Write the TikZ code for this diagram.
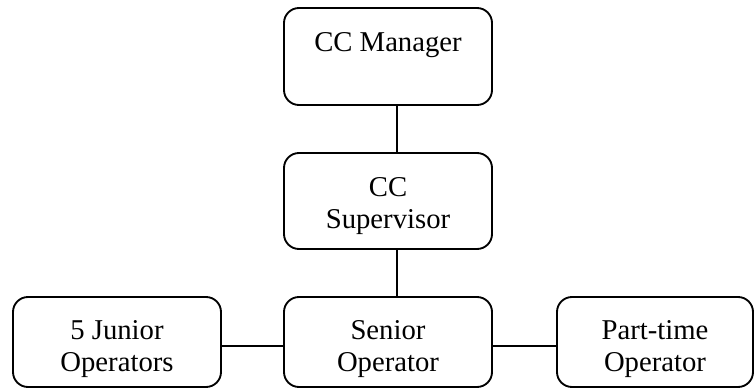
\documentclass[tikz,border=0pt]{standalone}
\usepackage{fontspec}
\setmainfont{Liberation Serif}
\usetikzlibrary{positioning}
\tikzstyle{every node}=[font=\fontsize{24.5}{28}\selectfont]
\tikzstyle{post}=[draw, rounded corners=0.45cm, line width=1.6pt, inner sep=0pt, minimum width=6.24cm]
\tikzstyle{caption}=[align=center, inner sep=0pt]
\tikzstyle{link}=[line width=1.6pt]

\begin{document}
\begin{tikzpicture}[x=0.03cm, y=-0.03cm]
    \useasboundingbox (0,0) rectangle (755,389);
% Boxes
    \node[post, minimum height=2.91cm] (mgr) at (388,56.5) {};
    \node[post, minimum height=2.88cm] (sup) at (388,201) {};
    \node[post, minimum height=2.7cm] (sen) at (388,342) {};
    \node[post, minimum height=2.7cm] (jun) at (117,342) {};
    \node[post, minimum height=2.7cm, minimum width=5.88cm] (part) at (655,342) {};
% Texts
    \node[caption] (mgr-t) at (388,45) {CC Manager};
    \node[caption] (sup-t) at (388,206) {CC\\Supervisor};
    \node[caption] (sen-t) at (388,349) {Senior\\Operator};
    \node[caption] (jun-t) at (117,349) {5 Junior\\Operators};
    \node[caption] (part-t) at (655,349) {Part-time\\Operator};
% Links
    \draw[link] ([xshift=0.27cm]mgr.south) -- ([xshift=0.27cm]sup.north);
    \draw[link] ([xshift=0.27cm]sup.south) -- ([xshift=0.27cm]sen.north);
    \draw[link] ([yshift=-0.12cm]jun.east) -- ([yshift=-0.12cm]sen.west);
    \draw[link] ([yshift=-0.12cm]sen.east) -- ([yshift=-0.12cm]part.west);
\end{tikzpicture}
\end{document}
